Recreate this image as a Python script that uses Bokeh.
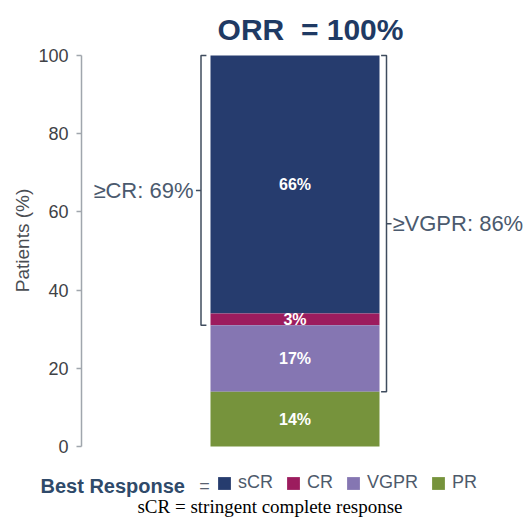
import math
from bokeh.plotting import figure
from bokeh.models import Range1d, Label, Legend, LegendItem, FixedTicker, ColumnDataSource
from bokeh.core.properties import value
from bokeh.embed import file_html
from bokeh.resources import INLINE

# ---- data ----
categories = ["sCR", "CR", "VGPR", "PR"]
values = [66, 3, 17, 14]
value_labels = ["66%", "3%", "17%", "14%"]
colors = ["#263c6e", "#9c1c5e", "#8576b2", "#76933c"]
y_ticks = [0, 20, 40, 60, 80, 100]
orr_label = "ORR\u00a0\u00a0= 100%"
cr_label = "\u2265CR: 69%"
vgpr_label = "\u2265VGPR: 86%"
y_label = "Patients (%)"
legend_title = "Best Response"
footnote = "sCR = stringent complete response"

# stack: last category at the bottom
tops, bottoms = [], []
acc = 0
for v in reversed(values):
    bottoms.insert(0, acc)
    acc += v
    tops.insert(0, acc)
mids = [(b + t) / 2 for b, t in zip(bottoms, tops)]

SANS = "Liberation Sans"
W, H = 529, 517
AXIS_PX = 81
BAR_CENTER_PX = 294.5
PX_PER_X = 169.0
Y0_PX = 446.0
PX_PER_Y = 3.91

# layout helpers: page pixel -> data coordinate
def fx(px):
    return (px - BAR_CENTER_PX) / PX_PER_X

def fy(py):
    return (Y0_PX - py) / PX_PER_Y

p = figure(width=W, height=H, x_range=Range1d(fx(0), fx(W)),
           y_range=Range1d(fy(H), fy(0)),
           output_backend="svg", toolbar_location=None, x_axis_location=None,
           min_border_left=0, min_border_right=0, min_border_top=0, min_border_bottom=0)
p.outline_line_color = None
p.grid.visible = False

# y axis, drawn at a fixed x position inside the frame
ax = p.yaxis[0]
ax.fixed_location = fx(AXIS_PX)
ax.bounds = (0, 100)
ax.ticker = FixedTicker(ticks=y_ticks)
ax.minor_tick_line_color = None
ax.major_tick_out = 5
ax.major_tick_in = 0
ax.major_label_standoff = 8
ax.axis_line_color = "#a0a6ad"
ax.axis_line_width = 1.5
ax.major_tick_line_color = "#a0a6ad"
ax.major_tick_line_width = 1.5
ax.major_label_text_font = SANS
ax.major_label_text_font_size = "18px"
ax.major_label_text_color = "#404246"

p.add_layout(Label(x=fx(22), y=fy(240), text=y_label, angle=math.pi / 2,
                   text_align="center", text_baseline="middle", text_font=SANS,
                   text_font_size="19px", text_color="#4a4d52"))

src = ColumnDataSource(dict(cat=categories, bottom=bottoms, top=tops, color=colors,
                            mid=mids, label=value_labels))
bars = p.vbar(x=0, width=1, bottom="bottom", top="top", fill_color="color",
              line_color=None, source=src)
p.text(x=0, y="mid", text="label", source=src, text_color="white",
       text_font=value(SANS), text_font_style="bold", text_font_size="16px",
       text_align="center", text_baseline="middle")

# brackets
cr_low = bottoms[1]
vg_low = bottoms[2]
total = tops[0]
xl, xr, cap, tick = fx(200.5), fx(386), 0.032, 0.03
bracket_color = "#3f4c5e"
p.multi_line(xs=[[xl + cap, xl, xl, xl + cap], [xl, xl - tick],
                 [xr - cap, xr, xr, xr - cap], [xr, xr + tick]],
             ys=[[total, total, cr_low, cr_low], [(total + cr_low) / 2] * 2,
                 [total, total, vg_low, vg_low], [(total + vg_low) / 2] * 2],
             line_color=bracket_color, line_width=1.5)

side_color = "#4b5a6e"
p.add_layout(Label(x=fx(193), y=(total + cr_low) / 2, text=cr_label, text_align="right",
                   text_baseline="middle", text_font=SANS, text_font_size="22px",
                   text_color=side_color))
p.add_layout(Label(x=fx(392), y=(total + vg_low) / 2, text=vgpr_label, text_align="left",
                   text_baseline="middle", text_font=SANS, text_font_size="22px",
                   text_color=side_color))

# title
p.add_layout(Label(x=fx(310), y=fy(29), text=orr_label, text_align="center",
                   text_baseline="middle", text_font=SANS, text_font_style="bold",
                   text_font_size="30px", text_color="#1f3a64"))

# legend row
items = [LegendItem(label=c, renderers=[bars], index=i) for i, c in enumerate(categories)]
legend = Legend(items=items, orientation="horizontal", location=(216, 24),
                glyph_width=16, glyph_height=16, label_standoff=6, spacing=12,
                padding=0, margin=0, border_line_color=None, background_fill_alpha=0,
                label_text_font=SANS, label_text_font_size="18px",
                label_text_color="#4d5a6b", label_height=18)
p.add_layout(legend)

p.add_layout(Label(x=fx(40), y=fy(485), text=legend_title, text_align="left",
                   text_baseline="middle", text_font=SANS, text_font_style="bold",
                   text_font_size="20px", text_color="#2f4a6a"))
p.add_layout(Label(x=fx(204), y=fy(485), text="=", text_align="center",
                   text_baseline="middle", text_font=SANS, text_font_size="18px",
                   text_color="#5a6270"))

# footnote
p.add_layout(Label(x=fx(269.5), y=fy(505.5), text=footnote, text_align="center",
                   text_baseline="middle", text_font="Liberation Serif",
                   text_font_size="19px", text_color="black"))

open("out.html", "w").write(file_html(p, INLINE))
